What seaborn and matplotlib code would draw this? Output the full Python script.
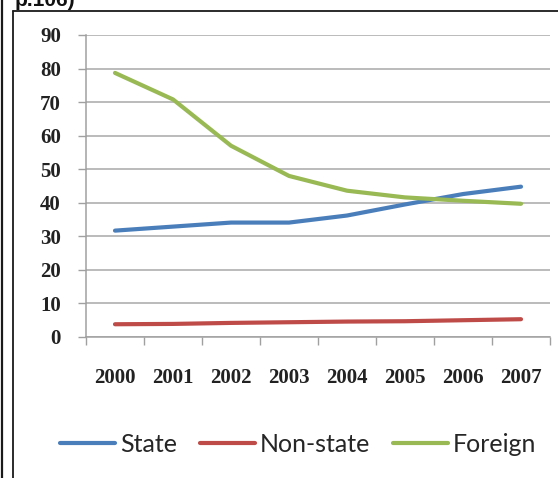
import matplotlib
matplotlib.use("Agg")
import matplotlib.pyplot as plt
from matplotlib.lines import Line2D
import seaborn as sns
import pandas as pd

years = ["2000", "2001", "2002", "2003", "2004", "2005", "2006", "2007"]
state = [31.7, 32.9, 34.1, 34.1, 36.2, 39.5, 42.6, 44.8]
non_state = [3.8, 3.9, 4.2, 4.4, 4.6, 4.7, 5.0, 5.3]
foreign = [78.7, 70.8, 57.0, 48.0, 43.6, 41.6, 40.6, 39.7]
series_names = ["State", "Non-state", "Foreign"]
colors = ["#4a7ebb", "#be4b48", "#98b954"]

rows = []
for name, vals in zip(series_names, [state, non_state, foreign]):
    for i, v in enumerate(vals):
        rows.append({"idx": i, "value": v, "series": name})
df = pd.DataFrame(rows)

sns.set_theme(style="white")
plt.rcParams["font.family"] = ["DejaVu Sans"]

W, H = 558, 478
fig = plt.figure(figsize=(W / 100, H / 100), dpi=100)
ax = fig.add_axes([86 / W, 1 - 337 / H, (550 - 86) / W, (337 - 35) / H])

sns.lineplot(data=df, x="idx", y="value", hue="series", hue_order=series_names,
             palette=colors, linewidth=3.0, ax=ax, legend=False)
for ln in ax.get_lines():
    ln.set_solid_capstyle("round")
    ln.set_solid_joinstyle("round")

tick_font = {"fontfamily": "Liberation Serif", "fontweight": "bold",
             "fontsize": 15, "color": "#222222"}

ax.set_xlim(-0.5, len(years) - 0.5)
ax.set_ylim(0, 90)
ax.set_yticks(range(0, 91, 10))
ax.set_yticklabels([str(v) for v in range(0, 91, 10)], **tick_font)
ax.yaxis.grid(True, color="#a8a8a8", linewidth=1.1)
ax.set_axisbelow(True)

# category boundaries carry the tick marks, centres carry the labels
ax.set_xticks([i - 0.5 for i in range(len(years) + 1)])
ax.set_xticklabels([])
ax.set_xticks(range(len(years)), minor=True)
ax.set_xticklabels(years, minor=True, **tick_font)
ax.tick_params(axis="x", which="major", length=6, width=1, color="#a0a0a0",
               direction="out", bottom=True)
ax.tick_params(axis="x", which="minor", length=0, pad=22)
ax.tick_params(axis="y", length=6, width=1, color="#a0a0a0", pad=12, left=True)

ax.set_xlabel("")
ax.set_ylabel("")
for side in ["top", "right"]:
    ax.spines[side].set_visible(False)
for side in ["left", "bottom"]:
    ax.spines[side].set_color("#a0a0a0")
    ax.spines[side].set_linewidth(1.1)

handles = [Line2D([0], [0], color=c, linewidth=3.0) for c in colors]
fig.legend(handles, series_names, loc="center", bbox_to_anchor=(298 / W, 1 - 444 / H),
           ncol=3, frameon=False, handlelength=2.2, handletextpad=0.2,
           columnspacing=0.9, prop={"family": "Lato", "size": 18})

# surrounding frame and the clipped caption above it
fig.add_artist(Line2D([13 / W, 13 / W], [0, 1 - 11 / H], transform=fig.transFigure,
                      color="#1a1a1a", linewidth=1.3))
fig.add_artist(Line2D([13 / W, 1], [1 - 11 / H, 1 - 11 / H], transform=fig.transFigure,
                      color="#1a1a1a", linewidth=1.3))
fig.add_artist(Line2D([1.5 / W, 1.5 / W], [0, 1], transform=fig.transFigure,
                      color="#1a1a1a", linewidth=1.6))
fig.text(15 / W, 1 - 6 / H, "p.106)", fontsize=15, fontweight="bold",
         fontfamily="Liberation Sans", color="#111111", va="baseline", ha="left")

fig.savefig("out.png", dpi=100)
